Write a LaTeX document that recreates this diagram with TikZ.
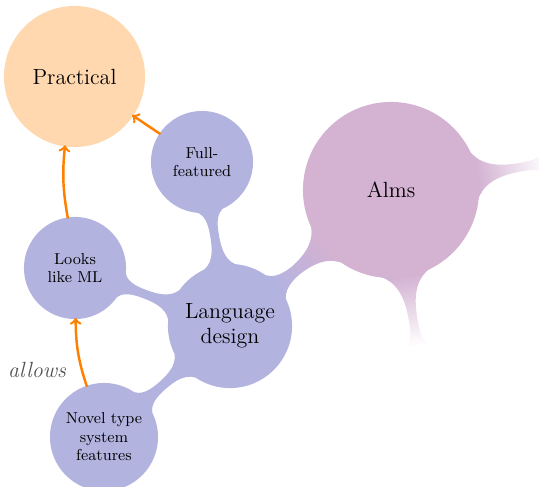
\documentclass[tikz,border=0pt]{standalone}
\usepackage{tikz}
\usetikzlibrary{mindmap}
\definecolor{MMPurple}{RGB}{211,178,210}
\definecolor{MMBlue}{RGB}{179,179,224}
\definecolor{MMPeach}{RGB}{255,216,176}
\definecolor{MMOrange}{RGB}{255,128,0}
\definecolor{MMGray}{RGB}{80,80,80}
\pgfdeclarelayer{background}
\pgfsetlayers{background,main}

\begin{document}
\begin{tikzpicture}[x=1cm,y=1cm,mindmap,
    every concept/.append style={inner sep=0pt,align=center},
    bigconcept/.style={concept,text width=1.9cm,font=\fontsize{12.5}{14.5}\selectfont},
    leafconcept/.style={concept,concept color=MMBlue,text width=1.7cm,minimum size=2cm,font=\fontsize{9}{10.5}\selectfont},
    link/.style={->,MMOrange,line width=1.4pt},
    linklabel/.style={text=MMGray,inner sep=0pt,font=\itshape\fontsize{12.5}{14.5}\selectfont}]
  \useasboundingbox (0,0) rectangle (10.78,9.72);
  % the concepts
  \node[bigconcept,concept color=MMPurple,minimum size=3.48cm] (alms) at (7.82,5.92) {Alms};
  \node[bigconcept,concept color=MMBlue,minimum size=2.44cm] (design) at (4.6,3.2) {Language\\design};
  \node[leafconcept] (ml) at (1.5,4.36) {Looks\\like ML};
  \node[leafconcept] (full) at (4.04,6.48) {Full-\\featured};
  \node[leafconcept,minimum size=2.12cm] (novel) at (2.08,0.98) {Novel type\\system\\features};
  \node[bigconcept,concept color=MMPeach,minimum size=2.78cm] (practical) at (1.49,8.19) {Practical};
  % branches that run off the page
  \node[concept,concept color=white,text width=1cm,minimum size=2cm] (offright) at (11.9,6.64) {};
  \node[concept,concept color=white,text width=1cm,minimum size=2cm] (offdown) at (8.52,1.82) {};
  \begin{pgfonlayer}{background}
    \path (alms) to[circle connection bar switch color=from (MMPurple) to (MMBlue)] (design);
    \path (alms) to[circle connection bar switch color=from (MMPurple) to (white)] (offright);
    \path (alms) to[circle connection bar switch color=from (MMPurple) to (white)] (offdown);
    \path (design) to[circle connection bar switch color=from (MMBlue) to (MMBlue)] (ml);
    \path (design) to[circle connection bar switch color=from (MMBlue) to (MMBlue)] (full);
    \path (design) to[circle connection bar switch color=from (MMBlue) to (MMBlue)] (novel);
  \end{pgfonlayer}
  % orange arrows
  \draw[link] (ml) to[bend left=8] (practical);
  \draw[link] (full) -- (practical);
  \draw[link] (novel) to[bend left=9] (ml);
  \node[linklabel] (allows) at (0.74,2.32) {allows};
\end{tikzpicture}
\end{document}
